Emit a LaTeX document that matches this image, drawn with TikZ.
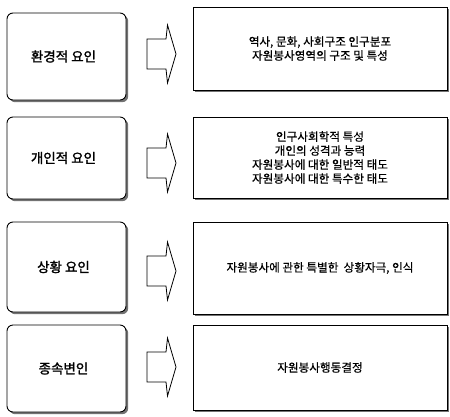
\documentclass[tikz,border=0pt]{standalone}
\usepackage{fontspec}
\setmainfont{Noto Sans CJK KR}[FakeBold=0.4]
\newfontfamily\krbold[FakeBold=1.6]{Noto Sans CJK KR}
\usetikzlibrary{shadows}
\begin{document}
\begin{tikzpicture}[x=1pt,y=-1pt,
  shad/.style={drop shadow={shadow xshift=2.2pt, shadow yshift=-2.2pt, fill=black!55, opacity=1}},
  lbox/.style={draw, line width=0.9pt, rounded corners=6pt, fill=white, shad,
    minimum width=119pt, inner sep=0pt, font=\krbold\fontsize{13.5}{16}\selectfont},
  rbox/.style={draw, line width=0.7pt, fill=white, shad,
    minimum width=254pt, inner sep=0pt, align=center, font=\fontsize{11.6}{14}\selectfont},
  barrow/.pic={\draw[line width=0.8pt, line join=miter, fill=white]
     (-14.5,-15)--(4.5,-15)--(6,-29)--(14.5,0)--(6,29)--(4.5,15)--(-14.5,15)--cycle;}
]
\useasboundingbox (0,0) rectangle (450,416);

\node[lbox, minimum height=87pt] (L1) at (66.5,56.5) {\hspace*{-6pt}환경적 요인};
\node[lbox, minimum height=82pt] (L2) at (66.5,158) {\hspace*{-6pt}개인적 요인};
\node[lbox, minimum height=90pt] (L3) at (66.5,267) {\hspace*{-6pt}상황 요인};
\node[lbox, minimum height=87pt] (L4) at (66.5,368.5) {\hspace*{-6pt}종속변인};

\node[rbox, minimum height=83pt] (R1) at (320,48.5) {역사, 문화, 사회구조 인구분포\\자원봉사영역의 구조 및 특성};
\node[rbox, minimum height=81pt] (R2) at (320,157.5) {인구사회학적 특성\\개인의 성격과 능력\\자원봉사에 대한 일반적 태도\\자원봉사에 대한 특수한 태도};
\node[rbox, minimum height=92pt] (R3) at (320,268) {자원봉사에 관한 특별한\ \ 상황자극, 인식};
\node[rbox, minimum height=85pt] (R4) at (320,367.5) {자원봉사행동결정};

\coordinate (A1) at (161.5,54);
\coordinate (A2) at (161.5,163);
\coordinate (A3) at (161.5,271);
\coordinate (A4) at (161.5,367);
\pic at (A1) {barrow};
\pic at (A2) {barrow};
\pic at (A3) {barrow};
\pic at (A4) {barrow};
\end{tikzpicture}
\end{document}
